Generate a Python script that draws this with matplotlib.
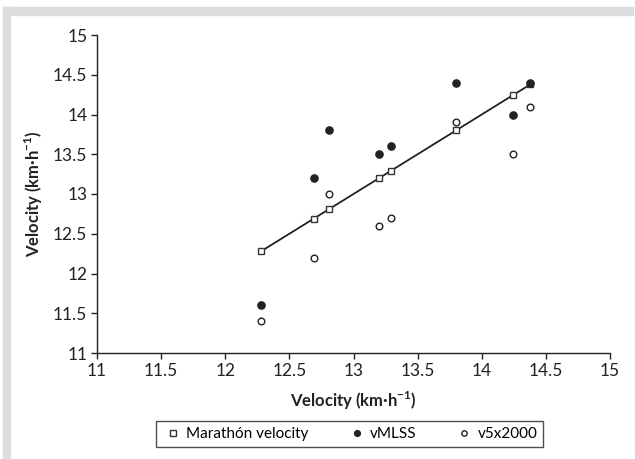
import matplotlib.pyplot as plt
from matplotlib.patches import Rectangle

plt.rcParams['font.family'] = ['Lato', 'DejaVu Sans']
plt.rcParams['mathtext.fontset'] = 'custom'
plt.rcParams['mathtext.rm'] = 'Lato'
plt.rcParams['mathtext.bf'] = 'Lato:bold'

marathon = [12.28, 12.69, 12.81, 13.20, 13.29, 13.80, 14.24, 14.38]
vmlss = [11.6, 13.2, 13.8, 13.5, 13.6, 14.4, 14.0, 14.4]
v5x2000 = [11.4, 12.2, 13.0, 12.6, 12.7, 13.9, 13.5, 14.1]
ticks = [11, 11.5, 12, 12.5, 13, 13.5, 14, 14.5, 15]
tick_labels = ['11', '11.5', '12', '12.5', '13', '13.5', '14', '14.5', '15']

fig = plt.figure(figsize=(6.35, 4.59), dpi=100)
W, H = 635, 459
gray = '#dcdddd'
# grey frame on top and left
fig.patches.append(Rectangle((3 / W, 1 - 15 / H), 630 / W, 8 / H,
                             transform=fig.transFigure, color=gray, zorder=0))
fig.patches.append(Rectangle((3 / W, 0), 7 / W, 1 - 7 / H,
                             transform=fig.transFigure, color=gray, zorder=0))

ax = fig.add_axes([97 / W, 1 - 353 / H, 513 / W, 318 / H])
ax.plot(marathon, marathon, '-', color='#222222', lw=1.3, zorder=2)
ax.plot(marathon, marathon, 's', ms=4.8, mfc='white', mec='#333333', mew=1.0,
        ls='none', label='Marathón velocity', zorder=3)
ax.plot(marathon, vmlss, 'o', ms=5.2, color='#222222', ls='none',
        label='vMLSS', zorder=3)
ax.plot(marathon, v5x2000, 'o', ms=4.8, mfc='white', mec='#222222', mew=1.0,
        ls='none', label='v5x2000', zorder=3)

ax.set_xlim(11, 15)
ax.set_ylim(11, 15)
ax.set_xticks(ticks)
ax.set_xticklabels(tick_labels)
ax.set_yticks(ticks)
ax.set_yticklabels(tick_labels)
ax.spines['top'].set_visible(False)
ax.spines['right'].set_visible(False)
for s in ['left', 'bottom']:
    ax.spines[s].set_linewidth(1.0)
    ax.spines[s].set_color('#222222')
ax.tick_params(direction='out', length=4, width=1.0, labelsize=12.5,
               colors='#222222', pad=3)

ax.set_xlabel('Velocity (km·h$^{\\mathbf{-1}}$)', fontsize=12, fontweight='bold',
              color='#222222', labelpad=8)
ax.set_ylabel('Velocity (km·h$^{\\mathbf{-1}}$)', fontsize=12, fontweight='bold',
              color='#222222', labelpad=6)

leg = ax.legend(loc='center', bbox_to_anchor=(349.5 / W, 1 - 434 / H),
                bbox_transform=fig.transFigure, ncol=3, fontsize=11,
                frameon=True, fancybox=False, handlelength=1.5,
                handletextpad=0.1, columnspacing=2.4, borderpad=0.4,
                borderaxespad=0, markerscale=0.8)
leg.get_frame().set_edgecolor('#222222')
leg.get_frame().set_linewidth(1.0)

fig.savefig('out.png', dpi=100)
